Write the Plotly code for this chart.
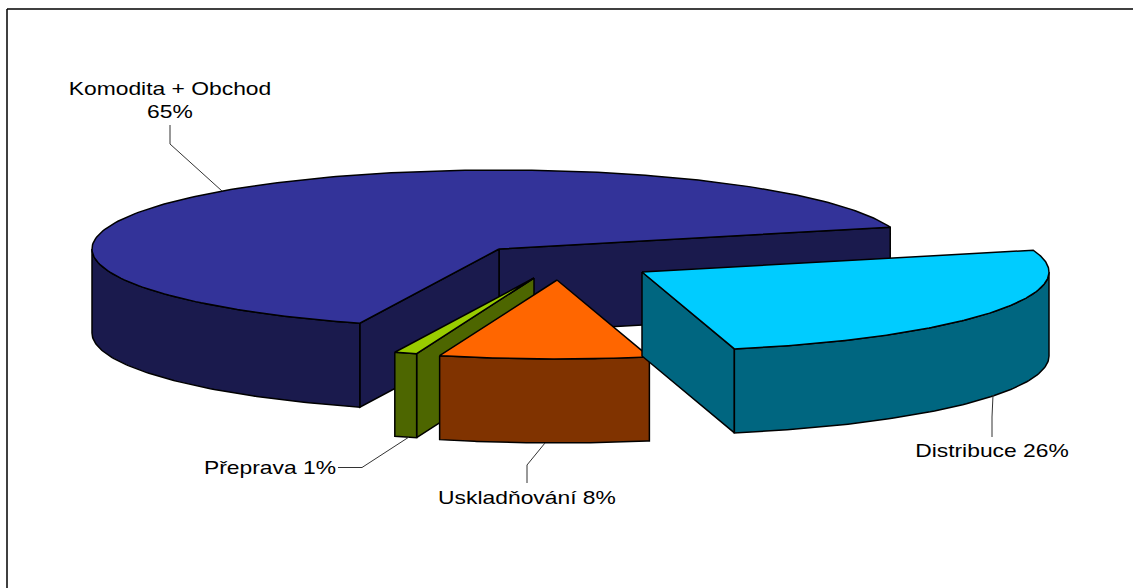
import numpy as np
import plotly.graph_objects as go

# --- data ---
categories = ["Komodita + Obchod", "Distribuce", "Uskladňování", "Přeprava"]
shares = [65.0, 25.8, 8.3, 0.9]
label_texts = ["Komodita + Obchod<br>65%", "Distribuce 26%", "Uskladňování 8%", "Přeprava 1%"]

# --- styling / geometry ---
top_colors = ["#333399", "#00CCFF", "#FF6600", "#99CC00"]
wall_colors = ["#1A1A4D", "#006680", "#803300", "#4D6600"]
centers = [(499, 249), (642, 272), (557, 280), (534, 278)]
RX, RY, DEPTH = 407, 79, 84
START = 16.0           # angle where first slice begins, sweeping counter-clockwise
label_pos = [(170, 102), (992, 452.5), (527, 500), (270, 470)]
leaders = [
    ([170, 170, 222], [125, 144, 191]),
    ([993, 992, 992], [395, 417, 437]),
    ([545, 527, 527], [443, 465, 483]),
    ([338, 362, 409], [467.5, 467.5, 437]),
]

# slice angle ranges: Komodita sweeps CCW from START, others CW from START
spans = [v / sum(shares) * 360 for v in shares]
ranges = [(START, START + spans[0])]
a = START
for s in spans[1:]:
    ranges.append((a - s, a))
    a -= s


def ell(c, t, dy=0.0):
    r = np.radians(t)
    return c[0] + RX * np.cos(r), c[1] - RY * np.sin(r) + dy


fig = go.Figure()


def poly(xs, ys, color):
    fig.add_trace(go.Scatter(
        x=list(xs) + [xs[0]], y=list(ys) + [ys[0]], mode="lines", fill="toself",
        fillcolor=color, line=dict(color="black", width=1.5), hoverinfo="skip",
        showlegend=False))


def draw_slice(i):
    c = centers[i]
    t0, t1 = ranges[i]
    top, wall = top_colors[i], wall_colors[i]
    # straight inner walls, when they face the viewer
    for t, outward in ((t0, t0 - 90), (t1, t1 + 90)):
        if np.sin(np.radians(outward)) < 0:
            ex, ey = ell(c, t)
            poly([c[0], ex, ex, c[0]], [c[1], ey, ey + DEPTH, c[1] + DEPTH], wall)
    # outer curved wall: part of the rim in the lower half of the ellipse
    lo, hi = max(t0, -180), min(t1, 0)
    if t1 > 180:  # rim crossing the left side (180..360)
        lo, hi = max(t0, 180), min(t1, 360)
    if hi > lo:
        ts = np.linspace(lo, hi, 90)
        x, y = ell(c, ts)
        poly(np.r_[x, x[::-1]], np.r_[y, (y + DEPTH)[::-1]], wall)
    # top face
    ts = np.linspace(t0, t1, 200)
    x, y = ell(c, ts)
    poly(np.r_[c[0], x], np.r_[c[1], y], top)


for i in (0, 3, 2, 1):
    draw_slice(i)

for lx, ly in leaders:
    fig.add_trace(go.Scatter(x=lx, y=ly, mode="lines", line=dict(color="#333333", width=1),
                             hoverinfo="skip", showlegend=False))

fig.add_trace(go.Scatter(
    x=[p[0] for p in label_pos], y=[p[1] for p in label_pos], text=label_texts,
    mode="text", textposition="middle center",
    textfont=dict(family="Liberation Sans", size=18, color="black"),
    hoverinfo="skip", showlegend=False))

fig.update_layout(
    width=1133, height=588, autosize=False,
    margin=dict(l=0, r=0, t=0, b=0),
    paper_bgcolor="white", plot_bgcolor="white",
    xaxis=dict(range=[0, 1133], visible=False, fixedrange=True),
    yaxis=dict(range=[588, 0], visible=False, fixedrange=True),
    shapes=[
        dict(type="line", xref="x", yref="y", x0=7, y0=9, x1=7, y1=588,
             line=dict(color="black", width=1.5), layer="below"),
        dict(type="line", xref="x", yref="y", x0=7, y0=9, x1=1133, y1=9,
             line=dict(color="black", width=1.5), layer="below"),
    ],
)
# the reference's labels are horizontally stretched: widen the real text about its anchor
stretch_js = """
document.body.style.margin='0';document.body.style.overflow='hidden';
document.querySelectorAll('.textpoint text').forEach(function(t){
  var x=parseFloat(t.getAttribute('x'));
  t.setAttribute('transform','translate('+x+',0) scale(1.27,1) translate('+(-x)+',0)');
});
"""
fig.write_html("out.html", post_script=stretch_js, config=dict(displayModeBar=False))
